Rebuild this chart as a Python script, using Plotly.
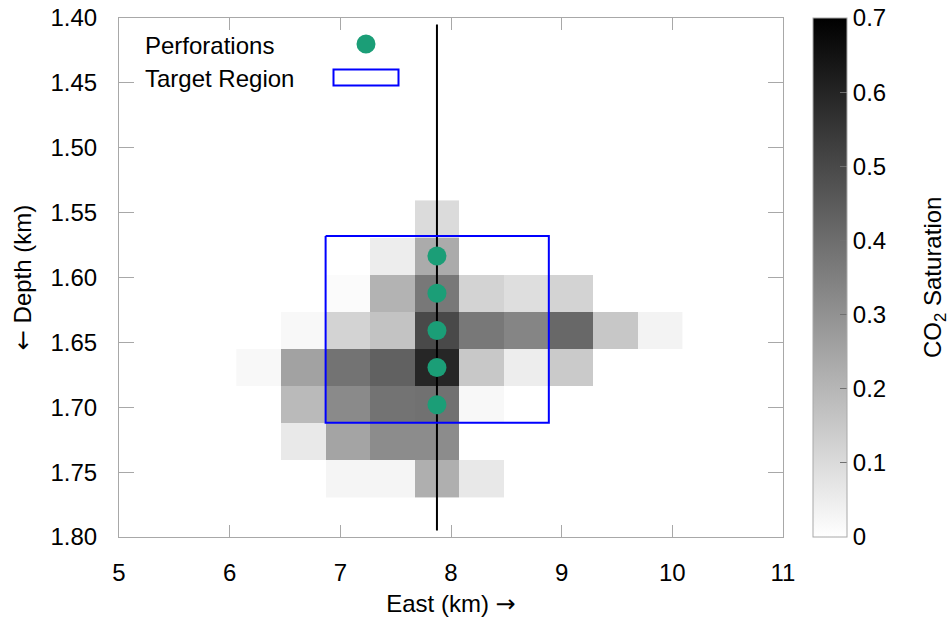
import plotly.graph_objects as go

# ---------------- data ----------------
east_km = [6.262, 6.665, 7.069, 7.472, 7.876, 8.280, 8.683, 9.086, 9.490, 9.893]
depth_km = [1.5549, 1.5835, 1.6121, 1.6408, 1.6694, 1.6981, 1.7267, 1.7554]
N = None
saturation = [
    [N,    N,     N,     N,     0.10,  N,     N,     N,     N,     N],
    [N,    N,     N,     0.05,  0.23,  N,     N,     N,     N,     N],
    [N,    N,     0.01,  0.21,  0.37,  0.12,  0.09,  0.12,  N,     N],
    [N,    0.02,  0.12,  0.165, 0.50,  0.37,  0.335, 0.415, 0.155, 0.033],
    [0.02, 0.255, 0.385, 0.435, 0.595, 0.15,  0.05,  0.145, N,     N],
    [N,    0.19,  0.32,  0.385, 0.39,  0.02,  N,     N,     N,     N],
    [N,    0.06,  0.25,  0.315, 0.315, N,     N,     N,     N,     N],
    [N,    N,     0.027, 0.027, 0.22,  0.063, N,     N,     N,     N],
]
perf_east = [7.873, 7.873, 7.873, 7.873, 7.873]
perf_depth = [1.5835, 1.6121, 1.6408, 1.6694, 1.6981]
well_east = [7.873, 7.873]
well_depth = [1.405, 1.795]
target_east = [6.867, 8.884]
target_depth = [1.568, 1.712]
x_ticks = [5, 6, 7, 8, 9, 10, 11]
y_ticks = [1.40, 1.45, 1.50, 1.55, 1.60, 1.65, 1.70, 1.75, 1.80]
cbar_ticks = [0, 0.1, 0.2, 0.3, 0.4, 0.5, 0.6, 0.7]
sat_min, sat_max = 0.0, 0.7

FONT = "Liberation Sans, Arial, Helvetica, sans-serif"
ARROW = '<span style="font-family:DejaVu Sans">{}</span>'
FS = 24
FRAME = "#a8a8a8"
GREEN = "#1b9e77"
BLUE = "#0000ff"

W, H = 951, 622
PL, PR, PT, PB = 119, 783, 18, 537          # plot frame in window pixels
ML, MT = PL, PT
PW, PH = PR - PL, PB - PT
MR, MB = W - ML - PW, H - MT - PH

def px_x(px):
    return (px - PL) / PW

def px_y(py):
    return (PB - py) / PH

fig = go.Figure()

fig.add_trace(go.Heatmap(
    x=east_km, y=depth_km, z=saturation,
    zmin=sat_min, zmax=sat_max,
    colorscale=[[0, "#ffffff"], [1, "#000000"]],
    showscale=True,
    hoverongaps=False,
    colorbar=dict(
        x=px_x(813), xanchor="left", xpad=0,
        y=0.5, yanchor="middle", len=1, lenmode="fraction", ypad=0,
        thickness=34, thicknessmode="pixels",
        outlinecolor=FRAME, outlinewidth=1,
        tickvals=cbar_ticks, ticks="inside", ticklen=7, tickcolor="#707070",
        ticklabeloverflow="allow",
        tickfont=dict(family=FONT, size=FS, color="#000"),
    ),
))

# well trajectory
fig.add_trace(go.Scatter(
    x=well_east, y=well_depth, mode="lines",
    line=dict(color="#000000", width=2), showlegend=False, hoverinfo="skip"))

# target region
fig.add_trace(go.Scatter(
    x=[target_east[0], target_east[1], target_east[1], target_east[0], target_east[0]],
    y=[target_depth[0], target_depth[0], target_depth[1], target_depth[1], target_depth[0]],
    mode="lines", line=dict(color=BLUE, width=2), showlegend=False, hoverinfo="skip"))

# perforations
fig.add_trace(go.Scatter(
    x=perf_east, y=perf_depth, mode="markers",
    marker=dict(color=GREEN, size=19, line=dict(width=0)),
    showlegend=False))

axis_common = dict(
    showgrid=False, zeroline=False, showline=True, linecolor=FRAME, linewidth=1,
    mirror="ticks", ticks="inside", tickcolor=FRAME, ticklabeloverflow="allow",
    tickfont=dict(family=FONT, size=FS, color="#000"),
)

fig.update_xaxes(
    range=[5, 11], tickvals=x_ticks, ticklen=12, ticklabelstandoff=14,
    title=dict(text="East (km) " + ARROW.format("→"),
               font=dict(family=FONT, size=FS, color="#000"), standoff=10),
    **axis_common)
fig.update_yaxes(
    range=[1.80, 1.40], tickvals=y_ticks, tickformat=".2f", ticklen=15, ticklabelstandoff=16,
    title=dict(text=ARROW.format("←") + " Depth (km)",
               font=dict(family=FONT, size=FS, color="#000"), standoff=12),
    **axis_common)

# colorbar left-side mirrored ticks
shapes = []
for v in cbar_ticks[1:-1]:
    yy = (v - sat_min) / (sat_max - sat_min)
    shapes.append(dict(type="line", xref="paper", yref="paper",
                       x0=px_x(813), x1=px_x(820), y0=yy, y1=yy,
                       line=dict(color="#707070", width=1)))

# manual legend (gnuplot style: text on left, symbol on right)
shapes.append(dict(type="circle", xref="paper", yref="paper",
                   x0=px_x(356.5), x1=px_x(375.5), y0=px_y(53.5), y1=px_y(34.5),
                   fillcolor=GREEN, line=dict(width=0)))
shapes.append(dict(type="rect", xref="paper", yref="paper",
                   x0=px_x(333.5), x1=px_x(398.5), y0=px_y(85.5), y1=px_y(69.5),
                   fillcolor="rgba(0,0,0,0)", line=dict(color=BLUE, width=2)))

annotations = [
    dict(text="Perforations", xref="paper", yref="paper", x=px_x(143), y=px_y(45),
         xanchor="left", yanchor="middle", showarrow=False,
         font=dict(family=FONT, size=FS, color="#000")),
    dict(text="Target Region", xref="paper", yref="paper", x=px_x(143), y=px_y(78),
         xanchor="left", yanchor="middle", showarrow=False,
         font=dict(family=FONT, size=FS, color="#000")),
    dict(text="CO<sub>2</sub> Saturation", xref="paper", yref="paper",
         x=px_x(934), y=px_y(278), xanchor="center", yanchor="middle",
         textangle=-90, showarrow=False,
         font=dict(family=FONT, size=FS, color="#000")),
]

fig.update_layout(
    width=W, height=H,
    margin=dict(l=ML, r=MR, t=MT, b=MB, autoexpand=False),
    paper_bgcolor="white", plot_bgcolor="white",
    showlegend=False,
    shapes=shapes, annotations=annotations,
    font=dict(family=FONT, size=FS, color="#000"),
)

# remove the default 8px page margin so the figure fills the window exactly
fig.write_html("out.html", config={"displayModeBar": False},
               post_script="document.body.style.margin='0';")
